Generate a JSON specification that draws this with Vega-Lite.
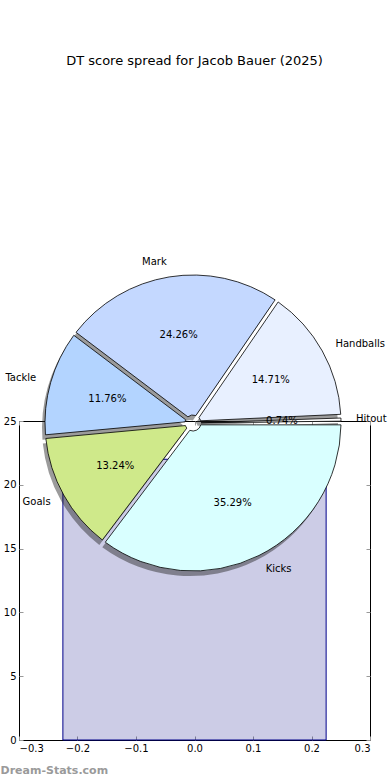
{
  "$schema": "https://vega.github.io/schema/vega-lite/v6.json",
  "width": 351,
  "height": 319,
  "autosize": {"type": "none"},
  "padding": {"left": 19, "top": 421, "right": 20, "bottom": 40},
  "background": "white",
  "title": {"text": "DT score spread for Jacob Bauer (2025)", "font": "DejaVu Sans", "fontSize": 13, "fontWeight": "normal", "color": "black", "anchor": "middle", "offset": 189},
  "config": {
    "font": "DejaVu Sans",
    "view": {"stroke": "black", "strokeWidth": 1},
    "axis": {"domain": false, "grid": false, "ticks": true, "tickSize": 4, "offset": -4, "tickColor": "#999999", "tickWidth": 1, "zindex": 1, "labelFont": "DejaVu Sans", "labelFontSize": 10, "labelColor": "black", "labelPadding": 3}
  },
  "datasets": {
    "spread": [
      {"cat": "Hitout", "n": 1, "share": 0.0074, "i": 1},
      {"cat": "Handballs", "n": 20, "share": 0.1471, "i": 2},
      {"cat": "Mark", "n": 33, "share": 0.2426, "i": 3},
      {"cat": "Tackle", "n": 16, "share": 0.1176, "i": 4},
      {"cat": "Goals", "n": 18, "share": 0.1324, "i": 5},
      {"cat": "Kicks", "n": 48, "share": 0.3529, "i": 6}
    ],
    "area": [{"x0": -0.225, "x1": 0.225, "v": 22}]
  },
  "resolve": {"axis": {"x": "independent", "y": "independent"}},
  "layer": [
    {
      "data": {"name": "area"},
      "mark": {"type": "rect", "fill": "#000080", "fillOpacity": 0.2, "stroke": "#00008b", "strokeWidth": 1},
      "encoding": {
        "x": {"field": "x0", "type": "quantitative", "scale": {"domain": [-0.3, 0.3], "nice": false, "zero": false}, "axis": {"orient": "bottom", "values": [-0.3, -0.2, -0.1, 0, 0.1, 0.2, 0.3], "format": ".1f", "title": "Dream-Stats.com", "titleAnchor": "start", "titleAlign": "left", "titleX": -19, "titleY": 37, "titleBaseline": "alphabetic", "titleColor": "#9a9a9a", "titleFontSize": 11, "titleFontWeight": "bold", "titleFont": "DejaVu Sans"}},
        "x2": {"field": "x1"},
        "y": {"field": "v", "type": "quantitative", "scale": {"domain": [0, 25], "nice": false}, "axis": {"orient": "left", "values": [0, 5, 10, 15, 20, 25], "title": null}},
        "y2": {"datum": 0}
      }
    },
    {
      "data": {"name": "area"},
      "mark": {"type": "rect", "opacity": 0},
      "encoding": {
        "x": {"field": "x0", "type": "quantitative", "axis": {"orient": "top", "labels": false, "values": [-0.3, -0.2, -0.1, 0, 0.1, 0.2, 0.3], "title": null}},
        "x2": {"field": "x1"},
        "y": {"field": "v", "type": "quantitative", "axis": {"orient": "right", "labels": false, "values": [0, 5, 10, 15, 20, 25], "title": null}},
        "y2": {"datum": 0}
      }
    },
    {
      "data": {"name": "spread"},
      "mark": {"type": "arc", "outerRadius": 148, "innerRadius": 8, "padAngle": 0.025, "x": {"expr": "width/2 - 4.5"}, "y": 7, "fill": "#222222", "opacity": 0.45},
      "encoding": {
        "theta": {"field": "n", "type": "quantitative", "stack": true, "scale": {"range": [1.5707963, -4.712389]}},
        "order": {"field": "i", "type": "quantitative"},
        "detail": {"field": "cat", "type": "nominal"}
      }
    },
    {
      "data": {"name": "spread"},
      "mark": {"type": "arc", "outerRadius": 148, "innerRadius": 8, "padAngle": 0.025, "x": {"expr": "width/2 - 1.5"}, "y": 2, "stroke": "black", "strokeWidth": 0.8, "opacity": 1},
      "encoding": {
        "theta": {"field": "n", "type": "quantitative", "stack": true, "scale": {"range": [1.5707963, -4.712389]}},
        "order": {"field": "i", "type": "quantitative"},
        "color": {"field": "cat", "type": "nominal", "scale": {"domain": ["Hitout", "Handballs", "Mark", "Tackle", "Goals", "Kicks"], "range": ["#ffffff", "#e8f0ff", "#c4d8ff", "#b3d4ff", "#cfe98a", "#d9ffff"]}, "legend": null}
      }
    },
    {
      "data": {"name": "spread"},
      "mark": {"type": "text", "radius": 89, "x": {"expr": "width/2 - 1.5"}, "y": 2, "font": "DejaVu Sans", "fontSize": 10, "fill": "black", "align": "center", "baseline": "middle"},
      "encoding": {
        "theta": {"field": "n", "type": "quantitative", "stack": true, "scale": {"range": [1.5707963, -4.712389]}},
        "order": {"field": "i", "type": "quantitative"},
        "detail": {"field": "cat", "type": "nominal"},
        "text": {"field": "share", "type": "quantitative", "format": ".2%"}
      }
    },
    {
      "data": {"name": "spread"},
      "mark": {"type": "text", "radius": 163, "x": {"expr": "width/2 - 1.5"}, "y": 2, "font": "DejaVu Sans", "fontSize": 10, "fill": "black", "baseline": "middle", "align": {"expr": "indexof(['Tackle','Goals','Mark'], datum.cat) >= 0 ? 'right' : 'left'"}},
      "encoding": {
        "theta": {"field": "n", "type": "quantitative", "stack": true, "scale": {"range": [1.5707963, -4.712389]}},
        "order": {"field": "i", "type": "quantitative"},
        "detail": {"field": "cat", "type": "nominal"},
        "text": {"field": "cat", "type": "nominal"}
      }
    }
  ]
}
